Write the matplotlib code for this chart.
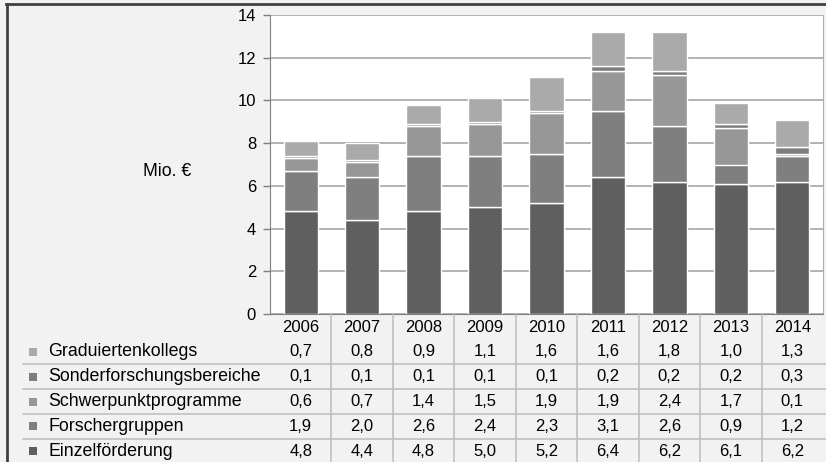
import matplotlib
matplotlib.use('Agg')
import matplotlib.pyplot as plt
import matplotlib.transforms as mtransforms
from matplotlib.lines import Line2D
from matplotlib.patches import Rectangle

plt.rcParams['font.family'] = ['Liberation Sans', 'DejaVu Sans']

years = ['2006', '2007', '2008', '2009', '2010', '2011', '2012', '2013', '2014']
einzel = [4.8, 4.4, 4.8, 5.0, 5.2, 6.4, 6.2, 6.1, 6.2]
forscher = [1.9, 2.0, 2.6, 2.4, 2.3, 3.1, 2.6, 0.9, 1.2]
schwerpunkt = [0.6, 0.7, 1.4, 1.5, 1.9, 1.9, 2.4, 1.7, 0.1]
sonder = [0.1, 0.1, 0.1, 0.1, 0.1, 0.2, 0.2, 0.2, 0.3]
gradu = [0.7, 0.8, 0.9, 1.1, 1.6, 1.6, 1.8, 1.0, 1.3]

# stacking order bottom -> top
series = [
    ('Einzelförderung', einzel, '#5f5f5f'),
    ('Forschergruppen', forscher, '#7f7f7f'),
    ('Schwerpunktprogramme', schwerpunkt, '#979797'),
    ('Sonderforschungsbereiche', sonder, '#7d7d7d'),
    ('Graduiertenkollegs', gradu, '#aaaaaa'),
]

W, H = 826, 462
fig = plt.figure(figsize=(W / 100, H / 100), dpi=100, facecolor='#f2f2f2')

def fx(px):
    return px / W

def fy(py):
    return 1 - py / H

ax = fig.add_axes([fx(270), fy(314), fx(823) - fx(270), fy(15) - fy(314)])
ax.set_facecolor('white')

x = list(range(len(years)))
bottom = [0.0] * len(years)
for name, vals, col in series:
    ax.bar(x, vals, width=0.56, bottom=bottom, color=col,
           edgecolor='white', linewidth=1.0, zorder=3)
    bottom = [b + v for b, v in zip(bottom, vals)]

ax.set_xlim(-0.5, len(years) - 0.5)
ax.set_ylim(0, 14)
ax.set_yticks(range(0, 15, 2))
ax.set_xticks([])
ax.yaxis.grid(True, color='#a6a6a6', linewidth=1.2, zorder=0)
ax.tick_params(axis='y', length=5, width=1, color='#808080', pad=5,
               labelsize=12, labelcolor='black')
ax.spines['top'].set_visible(False)
ax.spines['left'].set_color('#808080')
ax.spines['bottom'].set_color('#808080')
ax.spines['right'].set_color('#b0b0b0')
ax.spines['bottom'].set_zorder(4)

fig.text(fx(167), fy(172), 'Mio. €', fontsize=12.7, ha='center', va='center')

# data table below the plot
tr = mtransforms.blended_transform_factory(ax.transData, fig.transFigure)
header_y = 327
row_y0 = 352
row_h = 24.8

for i, yr in enumerate(years):
    fig.text(i, fy(header_y), yr, transform=tr, fontsize=12,
             ha='center', va='center')

rows = list(reversed(series))
for r, (name, vals, col) in enumerate(rows):
    py = row_y0 + r * row_h
    fig.patches.append(Rectangle((fx(28.5), fy(py + 4)), fx(8), 8 / H,
                                 transform=fig.transFigure, facecolor=col,
                                 edgecolor='none'))
    fig.text(fx(48), fy(py), name, fontsize=12.8, ha='left', va='center')
    for i, v in enumerate(vals):
        fig.text(i, fy(py), f'{v:.1f}'.replace('.', ','), transform=tr,
                 fontsize=12, ha='center', va='center')
    if r < len(rows) - 1:
        ly = py + row_h / 2
        fig.lines.append(Line2D([fx(23), 1], [fy(ly), fy(ly)],
                                transform=fig.transFigure, color='#c0c0c0',
                                linewidth=1.2))

for i in range(len(years) - 1):
    fig.lines.append(Line2D([i + 0.5, i + 0.5], [fy(315), 0], transform=tr,
                            color='#c0c0c0', linewidth=1.2))

# outer frame (top and left)
fig.lines.append(Line2D([fx(6), 1], [fy(4), fy(4)], transform=fig.transFigure,
                        color='#404040', linewidth=2))
fig.lines.append(Line2D([fx(6.5), fx(6.5)], [fy(4), 0], transform=fig.transFigure,
                        color='#404040', linewidth=2))

fig.savefig('out.png', dpi=100, facecolor=fig.get_facecolor())
